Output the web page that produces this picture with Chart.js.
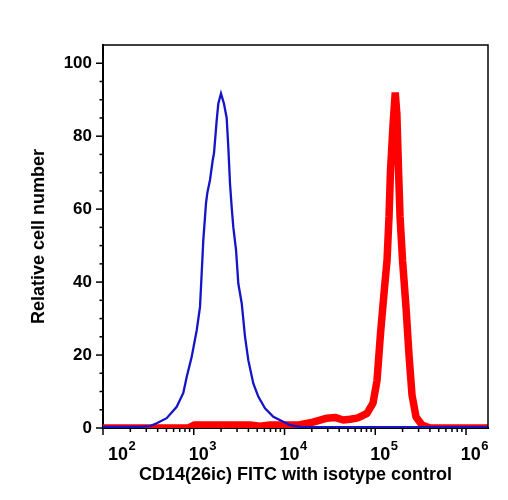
<!DOCTYPE html>
<html>
<head>
  <meta charset="utf-8">
  <title>CD14(26ic) FITC histogram</title>
  <style>
    * { margin: 0; padding: 0; }
    body { background: #fff; }
    #chart { display: block; }
  </style>
  <script src="https://cdn.jsdelivr.net/npm/chart.js"></script>
</head>
<body>
  <canvas id="chart" width="508" height="500"></canvas>
  <script>
    // fluorescence intensity (x) and relative cell number (y)
    const isotypeX = [100, 256, 330, 391, 503, 649, 767, 836, 949, 1078, 1172, 1243, 1274, 1364, 1410, 1510,
      1617, 1671, 1790, 1864, 1995, 2153, 2305, 2403, 2508, 2618, 2729, 2924, 3097, 3375, 3673, 3990,
      4531, 5140, 6095, 7530, 9705, 11508, 14825, 1746000];
    const isotypeY = [0.3, 0.3, 0.5, 1.3, 2.7, 5.8, 9.6, 14, 19.5, 26.8, 33.2, 46, 51.5, 61.6, 64.4, 68,
      73.4, 75.3, 84.4, 88.9, 91.7, 88.9, 85, 77, 67, 60.5, 55, 48.8, 39.6, 34.2, 25, 18.6,
      12.2, 8.6, 5.4, 3.1, 1.7, 0.8, 0.3, 0.2];

    const cd14X = [100, 865, 1007, 4169, 5370, 6918, 14825, 20606, 29376, 35975, 44157, 52723, 62951, 71450,
      81096, 94406, 104472, 114300, 124900, 134800, 141800, 147200, 156900, 166000, 173000, 180400,
      187400, 199700, 218200, 235400, 254100, 281200, 327500, 400900, 1746000];
    const cd14Y = [0, 0, 0.8, 0.8, 0.5, 0.8, 0.9, 1.6, 2.7, 2.9, 2.2, 2.4, 2.7, 3.3,
      4, 6.8, 13, 26, 37, 46, 58, 70.7, 83, 92, 86, 70.7,
      58, 46, 33, 20, 9, 3, 0.8, 0, 0];

    const xDecades = [100, 1000, 10000, 100000, 1000000];
    const xExponents = ['2', '3', '4', '5', '6'];
    const yMajorTicks = [0, 20, 40, 60, 80, 100];

    const FONT = "'Liberation Sans', Arial, sans-serif";

    function toPoints(xs, ys) {
      return xs.map((x, i) => ({ x: x, y: ys[i] }));
    }

    // tick marks, frame and 10^n labels
    const axisDecor = {
      id: 'axisDecor',
      afterDraw(chart) {
        const ctx = chart.ctx;
        const a = chart.chartArea;
        const xs = chart.scales.x;
        const ys = chart.scales.y;
        ctx.save();
        ctx.strokeStyle = '#000';

        // frame top + right
        ctx.lineWidth = 1.5;
        ctx.beginPath();
        ctx.moveTo(a.left, a.top);
        ctx.lineTo(a.right, a.top);
        ctx.lineTo(a.right, a.bottom);
        ctx.stroke();

        // x ticks
        xDecades.forEach(d => {
          for (let m = 1; m <= 9; m++) {
            const v = d * m;
            if (v > xs.max) break;
            const px = xs.getPixelForValue(v);
            ctx.beginPath();
            ctx.moveTo(px, a.bottom);
            ctx.lineTo(px, a.bottom + (m === 1 ? 7 : 4));
            ctx.stroke();
          }
        });

        // y ticks
        for (let v = 0; v <= 100; v += 5) {
          const py = ys.getPixelForValue(v);
          ctx.beginPath();
          ctx.moveTo(a.left, py);
          ctx.lineTo(a.left - (v % 20 === 0 ? 7 : 3.5), py);
          ctx.stroke();
        }

        // x labels: 10 with superscript exponent
        ctx.fillStyle = '#000';
        ctx.textBaseline = 'alphabetic';
        ctx.textAlign = 'left';
        xDecades.forEach((d, i) => {
          const px = xs.getPixelForValue(d);
          ctx.font = 'bold 18px ' + FONT;
          const w1 = ctx.measureText('10').width;
          ctx.font = 'bold 13px ' + FONT;
          const w2 = ctx.measureText(xExponents[i]).width;
          let start = px + 5 - w1 / 2;
          if (start < a.left + 5) start = a.left + 5;
          if (start + w1 + w2 > a.right) start = a.right - w1 - w2;
          ctx.font = 'bold 18px ' + FONT;
          ctx.fillText('10', start, 460);
          ctx.font = 'bold 13px ' + FONT;
          ctx.fillText(xExponents[i], start + w1 + 0.5, 450);
        });
        ctx.restore();
      }
    };

    const ctx = document.getElementById('chart').getContext('2d');
    const chart = new Chart(ctx, {
      type: 'line',
      data: {
        datasets: [
          {
            label: 'Isotype control',
            data: toPoints(isotypeX, isotypeY),
            borderColor: '#1414c8',
            borderWidth: 2.3,
            pointRadius: 0,
            tension: 0,
            clip: 0
          },
          {
            label: 'CD14(26ic) FITC',
            data: toPoints(cd14X, cd14Y),
            borderColor: '#ff0000',
            borderWidth: 7.5,
            borderJoinStyle: 'bevel',
            pointRadius: 0,
            tension: 0,
            clip: 0
          }
        ]
      },
      options: {
        responsive: false,
        animation: false,
        layout: { padding: { left: 0, top: 45, right: 20, bottom: 0 } },
        plugins: {
          legend: { display: false },
          tooltip: { enabled: false }
        },
        scales: {
          x: {
            type: 'logarithmic',
            min: 100,
            max: 1746000,
            grid: { display: false, drawTicks: false, tickLength: 0 },
            border: { display: true, color: '#000', width: 2 },
            ticks: { display: false },
            title: {
              display: true,
              text: 'CD14(26ic) FITC with isotype control',
              color: '#000',
              font: { family: FONT, size: 18, weight: 'bold' },
              padding: { top: 0, bottom: 14 }
            },
            afterFit(scale) { scale.height = 72; }
          },
          y: {
            min: 0,
            max: 105,
            grid: { display: false, drawTicks: false, tickLength: 0 },
            border: { display: true, color: '#000', width: 2 },
            afterBuildTicks(scale) {
              scale.ticks = yMajorTicks.map(v => ({ value: v }));
            },
            ticks: {
              color: '#000',
              padding: 11,
              font: { family: FONT, size: 17, weight: 'bold' }
            },
            title: {
              display: true,
              text: 'Relative cell number',
              color: '#000',
              font: { family: FONT, size: 18, weight: 'bold' },
              padding: { top: 28, bottom: 0 }
            },
            afterFit(scale) { scale.width = 103; }
          }
        }
      },
      plugins: [axisDecor]
    });
  </script>
</body>
</html>
